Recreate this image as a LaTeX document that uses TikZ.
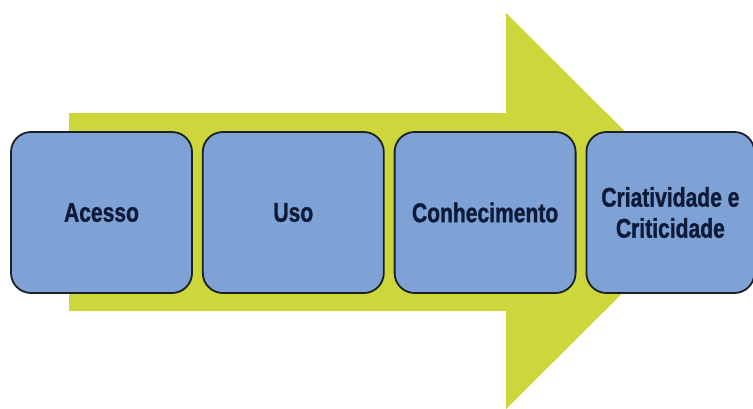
\documentclass[tikz,border=0pt]{standalone}
\usepackage{fontspec}
\usepackage{tikz}
\usetikzlibrary{positioning}
\newfontfamily\narrowsans[FakeStretch=0.78, BoldFeatures={FakeBold=1.2}]{Liberation Sans}
\definecolor{lime}{HTML}{CDD63A}
\definecolor{boxblue}{HTML}{7EA2D6}
\definecolor{edge}{HTML}{1C1F24}
\definecolor{ink}{HTML}{0D1B38}

\begin{document}
\begin{tikzpicture}[x=1pt, y=1pt, node distance=9pt,
  st/.style={draw=edge, line width=1.8pt, rounded corners=20pt, fill=boxblue, align=center, text=ink,
    font=\narrowsans\bfseries\fontsize{27}{31}\selectfont, minimum height=161pt, minimum width=181pt, inner sep=2pt}]
  \useasboundingbox (0,0) rectangle (753,-408);
  % big arrow behind the steps
  \fill[lime] (69,-113) -- (506,-113) -- (506,-13) -- (705,-211) -- (506,-409) -- (506,-311) -- (69,-311) -- cycle;
  \node[st] (acesso) at (101.5,-212.5) {Acesso};
  \node[st, right=of acesso] (uso) {Uso};
  \node[st, right=of uso] (conhec) {Conhecimento};
  \node[st, right=of conhec, minimum width=168pt] (criat) {Criatividade e\\Criticidade};
\end{tikzpicture}
\end{document}
